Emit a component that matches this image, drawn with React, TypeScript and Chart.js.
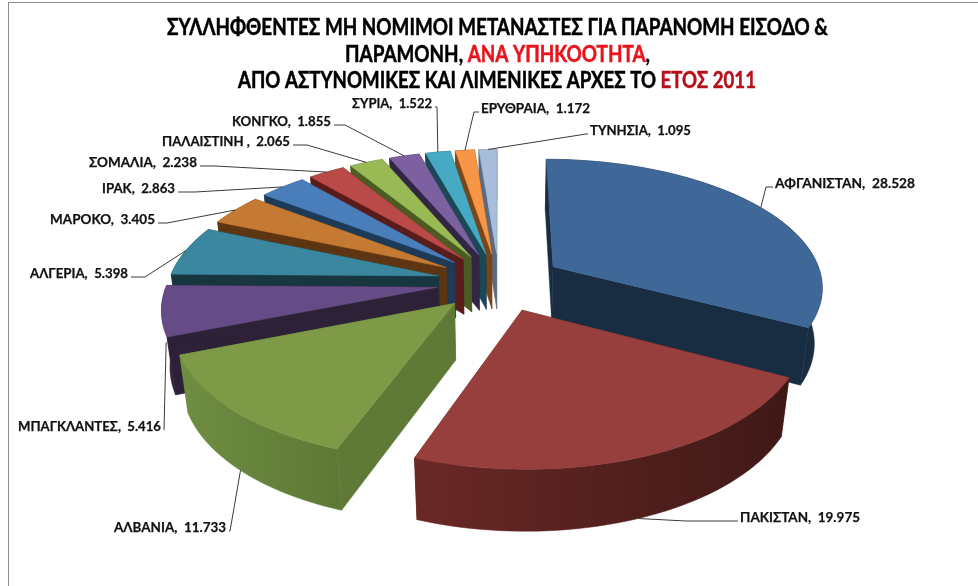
import React, { useEffect, useRef } from "react";
import { Chart, registerables } from "chart.js";

Chart.register(...registerables);

const categories = ["ΑΦΓΑΝΙΣΤΑΝ", "ΠΑΚΙΣΤΑΝ", "ΑΛΒΑΝΙΑ", "ΜΠΑΓΚΛΑΝΤΕΣ", "ΑΛΓΕΡΙΑ", "ΜΑΡΟΚΟ", "ΙΡΑΚ", "ΣΟΜΑΛΙΑ", "ΠΑΛΑΙΣΤΙΝΗ ", "ΚΟΝΓΚΟ", "ΣΥΡΙΑ", "ΕΡΥΘΡΑΙΑ", "ΤΥΝΗΣΙΑ"];
const values = [28528, 19975, 11733, 5416, 5398, 3405, 2863, 2238, 2065, 1855, 1522, 1172, 1095];
const explode = [60, 58, 58, 58, 58, 58, 58, 58, 58, 58, 58, 58, 58];

const topColors = ["#3F6797", "#973F3D", "#7E9A46", "#654C86", "#3B879F", "#C57A33", "#4A7EBB", "#BA4A48", "#98B954", "#7D60A0", "#46AAC5", "#F79646", "#A7BDDB"];
const wallColors = ["#182C42", "#5E2320", "#5F7A36", "#2D2138", "#17363F", "#5E3512", "#1D3A57", "#5A1C1A", "#4A5C22", "#322645", "#1B4756", "#7B4518", "#5A6A80"];
const rimLeftColors = ["#182C42", "#6A2826", "#6E8E42", "#2D2138", "#17363F", "#5E3512", "#1D3A57", "#5A1C1A", "#4A5C22", "#322645", "#1B4756", "#7B4518", "#5A6A80"];
const rimRightColors = ["#182C42", "#3F1916", "#5E7935", "#2D2138", "#17363F", "#5E3512", "#1D3A57", "#5A1C1A", "#4A5C22", "#322645", "#1B4756", "#7B4518", "#5A6A80"];

// label placement: text left edge, text centre line, leader bend
const labelX = [775, 740, 114, 18, 30, 50, 102, 89, 162, 232, 352, 481, 590];
const labelY = [183, 517, 527, 426, 273, 219, 188, 162, 141, 121, 103, 108, 130];
const labelWidth = [140, 120, 112, 143, 98, 105, 73, 108, 128, 99, 80, 109, 101];
const leaderBendX = [766, 686, 230, 164, 145, 167, 195, 215, 307, 345, 437, 474, 586];
const leaderDepth = [0, 1, 1, 0.55, 0, 0, 0, 0, 0, 0, 0, 0, 0];

const F = "Lato, 'Open Sans', 'Noto Sans', sans-serif";
const titleLines = [
  { parts: [["ΣΥΛΛΗΦΘΕΝΤΕΣ ΜΗ ΝΟΜΙΜΟΙ ΜΕΤΑΝΑΣΤΕΣ ΓΙΑ ΠΑΡΑΝΟΜΗ ΕΙΣΟΔΟ &", "#000000"]], y: 28, left: 167, width: 661 },
  { parts: [["ΠΑΡΑΜΟΝΗ, ", "#000000"], ["ΑΝΑ ΥΠΗΚΟΟΤΗΤΑ", "#E8141C"], [",", "#000000"]], y: 55, left: 345, width: 305 },
  { parts: [["ΑΠΟ ΑΣΤΥΝΟΜΙΚΕΣ ΚΑΙ ΛΙΜΕΝΙΚΕΣ ΑΡΧΕΣ ΤΟ ", "#000000"], ["ΕΤΟΣ 2011", "#B5121B"]], y: 81, left: 238, width: 518 },
];

// perspective of the tilted pie
const FX = 270, GY = 127, K = 0.145, DEPTH = 56, DEPTH_K = 0.08, SHRINK = 0.025;

function project(el: any, u: number, v: number, z: number) {
  const den = 1 - K * v + SHRINK * z;
  return {
    x: el.x + (FX * u) / den,
    y: el.y + (GY * v) / (1 - K * v) + (DEPTH * z) / (1 - DEPTH_K * v),
  };
}

function slicePoint(el: any, angle: number, r: number, z: number) {
  const mid = (el.startAngle + el.endAngle) / 2;
  const e = (el.options.offset || 0) / el.outerRadius;
  const u = e * Math.cos(mid) + r * Math.cos(angle);
  const v = e * Math.sin(mid) + r * Math.sin(angle);
  return project(el, u, v, z);
}

function path(ctx: CanvasRenderingContext2D, pts: { x: number; y: number }[], fill: any) {
  ctx.beginPath();
  pts.forEach((p, i) => (i ? ctx.lineTo(p.x, p.y) : ctx.moveTo(p.x, p.y)));
  ctx.closePath();
  ctx.fillStyle = fill;
  ctx.strokeStyle = fill;
  ctx.lineWidth = 0.5;
  ctx.fill();
  ctx.stroke();
}

function rimAngles(el: any) {
  const n = Math.max(4, Math.ceil(((el.endAngle - el.startAngle) * 180) / Math.PI / 2));
  const out: number[] = [];
  for (let i = 0; i <= n; i++) out.push(el.startAngle + ((el.endAngle - el.startAngle) * i) / n);
  return out;
}

const pie3d = {
  id: "pie3d",
  beforeDatasetsDraw(chart: any) {
    const ctx: CanvasRenderingContext2D = chart.ctx;
    const arcs: any[] = chart.getDatasetMeta(0).data;
    const order = arcs
      .map((el, i) => ({ el, i, depth: Math.sin((el.startAngle + el.endAngle) / 2) }))
      .sort((a, b) => a.depth - b.depth);
    ctx.save();
    for (const { el, i } of order) {
      const angles = rimAngles(el);
      const apexT = slicePoint(el, 0, 0, 0);
      const apexB = slicePoint(el, 0, 0, 1);
      [el.startAngle, el.endAngle].forEach((a: number) => {
        path(ctx, [apexT, slicePoint(el, a, 1, 0), slicePoint(el, a, 1, 1), apexB], wallColors[i]);
      });
      const top = angles.map((a) => slicePoint(el, a, 1, 0));
      const bottom = angles.map((a) => slicePoint(el, a, 1, 1));
      const xs = top.map((p) => p.x);
      const g = ctx.createLinearGradient(Math.min(...xs), 0, Math.max(...xs), 0);
      g.addColorStop(0, rimLeftColors[i]);
      g.addColorStop(1, rimRightColors[i]);
      path(ctx, [...top, ...bottom.reverse()], g);
      path(ctx, [apexT, ...top], el.options.backgroundColor);
    }
    ctx.restore();
    return false;
  },
  afterDraw(chart: any) {
    const ctx: CanvasRenderingContext2D = chart.ctx;
    const arcs: any[] = chart.getDatasetMeta(0).data;
    ctx.save();
    ctx.textBaseline = "middle";
    ctx.textAlign = "left";
    titleLines.forEach((line) => {
      ctx.font = `bold 22px ${F}`;
      const w = line.parts.reduce((s, p) => s + ctx.measureText(p[0]).width, 0);
      const squeeze = line.width / w;
      let x = line.left;
      line.parts.forEach(([t, c]) => {
        const tw = ctx.measureText(t).width * squeeze;
        ctx.fillStyle = c;
        ctx.strokeStyle = c;
        ctx.lineWidth = 0.5;
        ctx.fillText(t, x, line.y, tw);
        ctx.strokeText(t, x, line.y, tw);
        x += tw;
      });
    });
    ctx.font = `bold 14px ${F}`;
    arcs.forEach((el, i) => {
      const text = `${categories[i]},  ${String(values[i]).replace(/(\d)(\d{3})$/, "$1.$2")}`;
      ctx.fillStyle = "#111111";
      ctx.strokeStyle = "#111111";
      ctx.lineWidth = 0.25;
      ctx.fillText(text, labelX[i], labelY[i], labelWidth[i]);
      ctx.strokeText(text, labelX[i], labelY[i], labelWidth[i]);
      const mid = (el.startAngle + el.endAngle) / 2;
      const end = slicePoint(el, mid, 1, leaderDepth[i]);
      const bend = leaderBendX[i];
      const fromLeft = labelX[i] > 400;
      const startX = fromLeft ? labelX[i] - 2 : labelX[i] + labelWidth[i] + 3;
      const ly = labelY[i] + 4;
      ctx.strokeStyle = "#3a3a3a";
      ctx.lineWidth = 1;
      ctx.beginPath();
      ctx.moveTo(startX, ly);
      ctx.lineTo(bend, ly);
      ctx.lineTo(end.x, end.y);
      ctx.stroke();
    });
    ctx.restore();
  },
};

export default function App() {
  const ref = useRef<HTMLCanvasElement>(null);
  useEffect(() => {
    const chart = new Chart(ref.current!, {
      type: "pie",
      data: {
        labels: categories,
        datasets: [{ data: values, backgroundColor: topColors, borderWidth: 0, offset: explode }],
      },
      options: {
        responsive: false,
        animation: false,
        layout: { padding: { left: 20, bottom: 22 } },
        plugins: { legend: { display: false }, tooltip: { enabled: false }, title: { display: false } },
      },
      plugins: [pie3d],
    } as any);
    return () => chart.destroy();
  }, []);
  return (
    <div style={{ position: "fixed", left: 0, top: 0, width: 978, height: 586, background: "#fff", overflow: "hidden" }}>
      <div style={{ position: "absolute", left: 8, top: 2, width: 980, height: 600, borderLeft: "1px solid #8c8c8c", borderTop: "1px solid #8c8c8c" }} />
      <canvas ref={ref} width={978} height={586} style={{ position: "absolute", left: 0, top: 0 }} />
    </div>
  );
}
